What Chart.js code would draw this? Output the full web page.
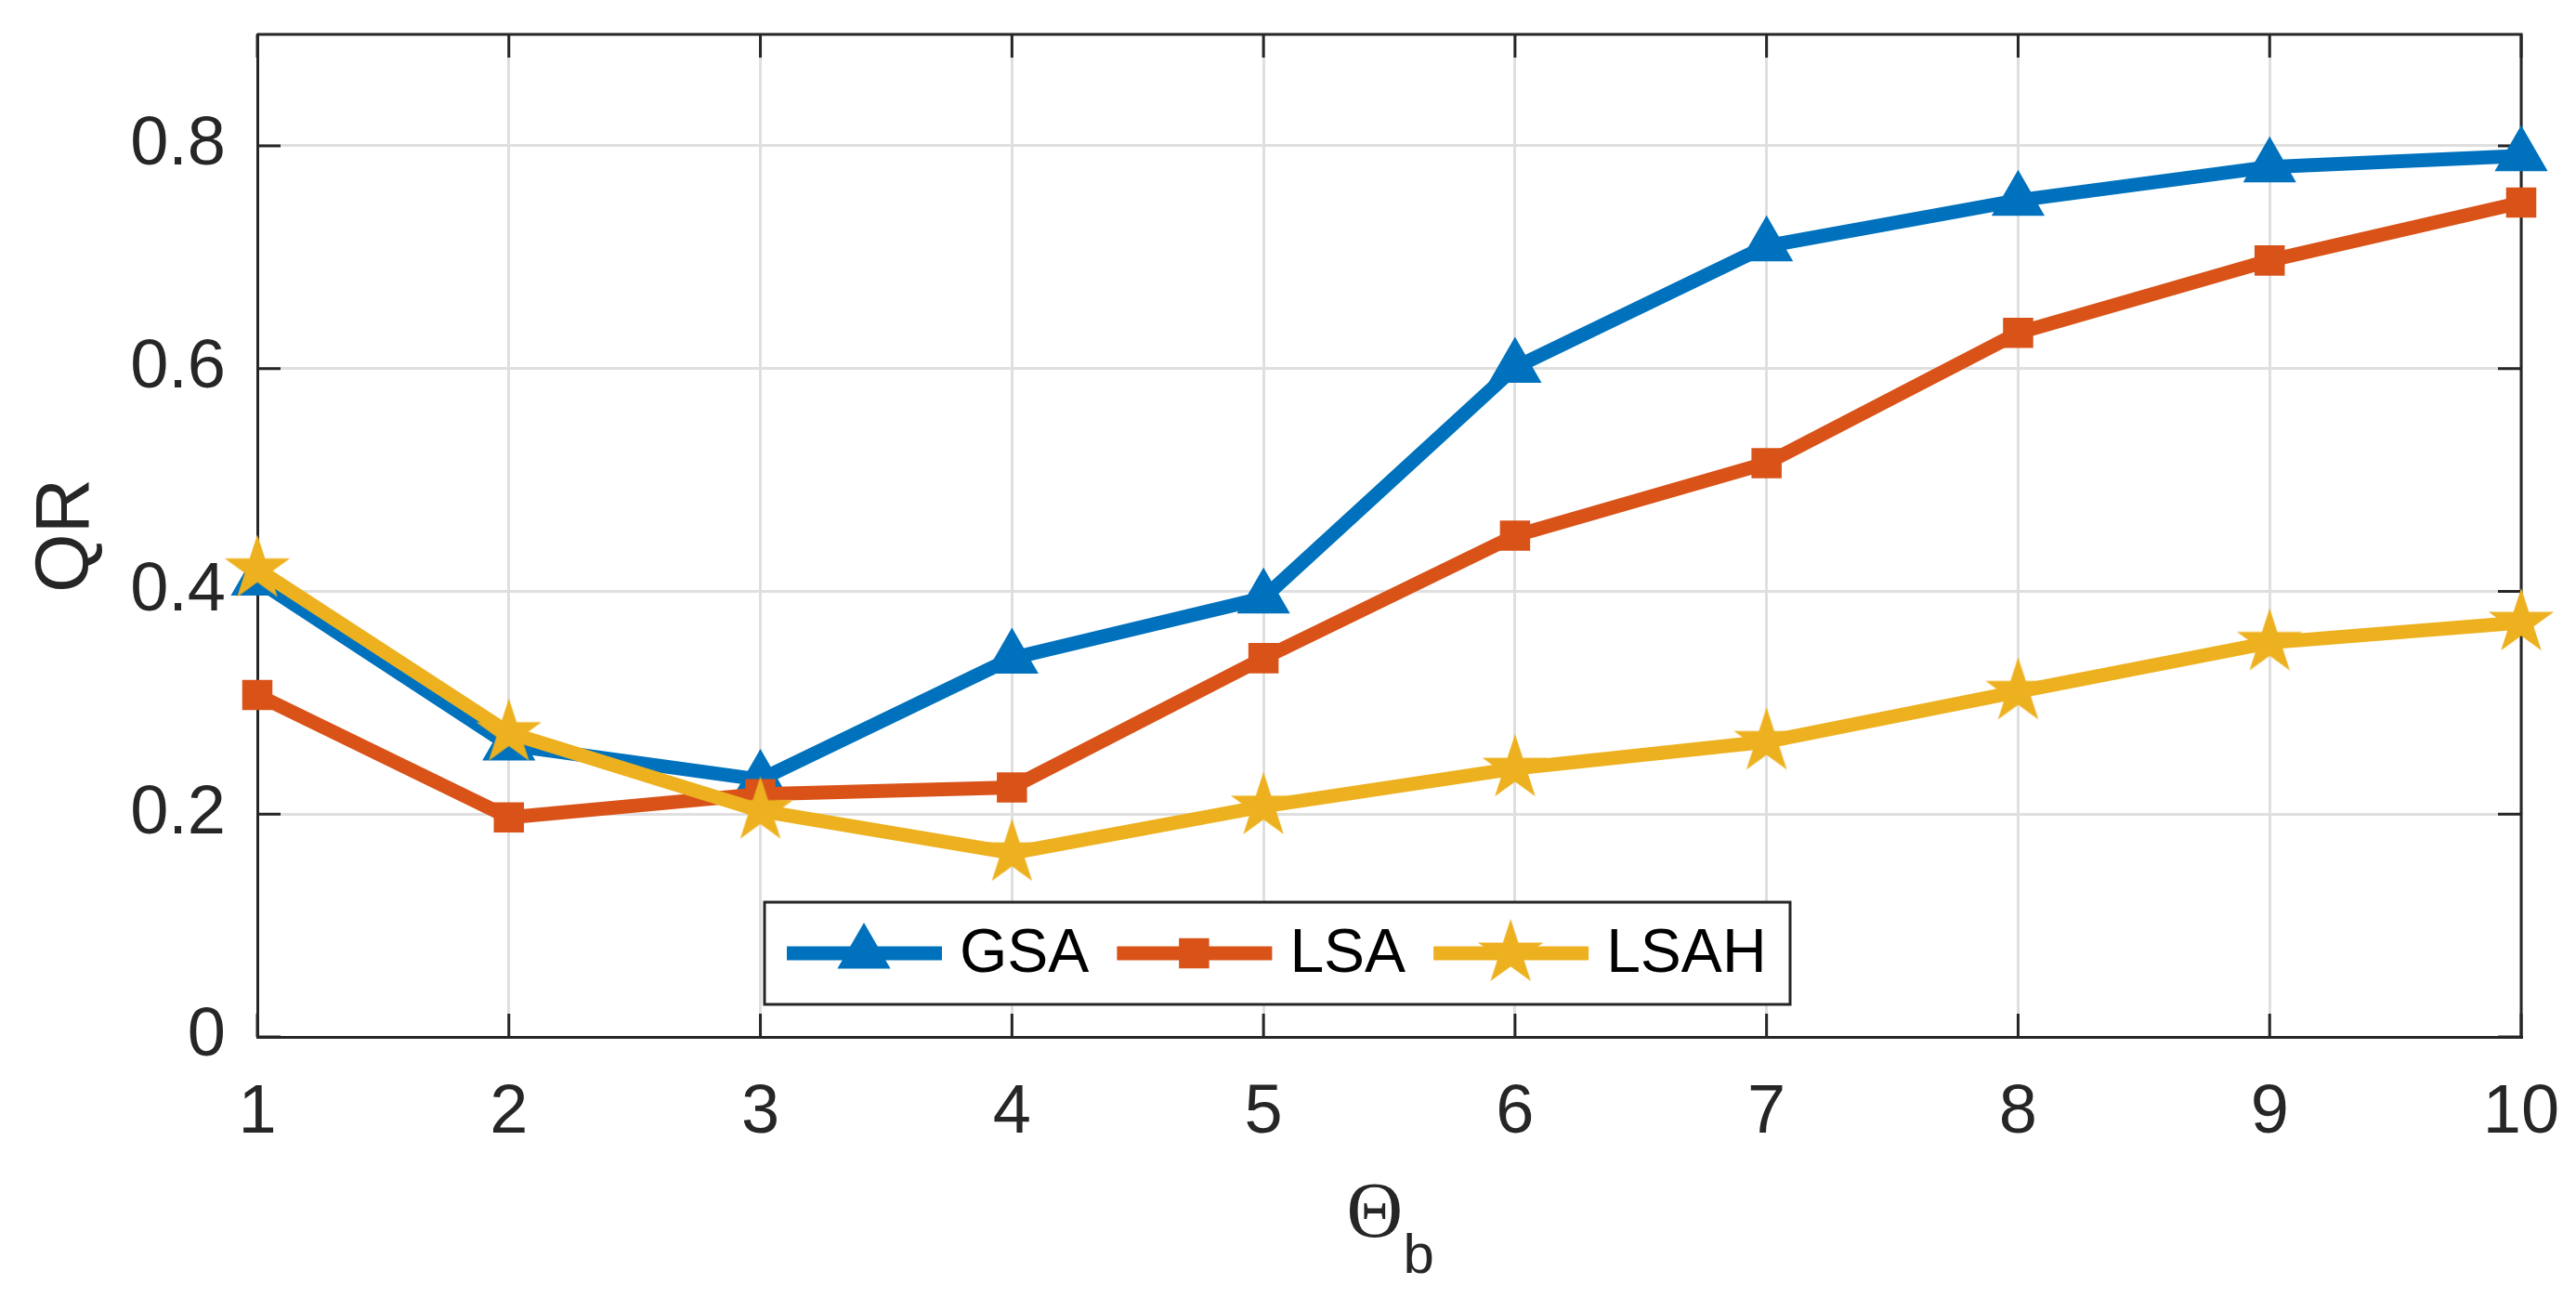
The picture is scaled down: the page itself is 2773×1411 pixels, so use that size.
<!DOCTYPE html>
<html>
<head>
<meta charset="utf-8">
<title>QR vs Theta_b</title>
<script src="https://cdn.jsdelivr.net/npm/chart.js@4.4.1/dist/chart.umd.min.js"></script>
<style>
    html, body { margin: 0; padding: 0; background: #fff; }
    #wrap { width: 2773px; height: 1411px; position: relative; }
</style>
</head>
<body>
<div id="wrap"><canvas id="qrChart"></canvas></div>
<script>
// data
const thetaB = ['1', '2', '3', '4', '5', '6', '7', '8', '9', '10'];
const gsa = [0.410, 0.262, 0.231, 0.340, 0.394, 0.601, 0.710, 0.751, 0.781, 0.791];
const lsa = [0.307, 0.197, 0.218, 0.224, 0.340, 0.450, 0.515, 0.632, 0.697, 0.749];
const lsah = [0.420, 0.273, 0.203, 0.165, 0.207, 0.241, 0.265, 0.310, 0.354, 0.372];
const yTicks = [0, 0.2, 0.4, 0.6, 0.8];
const yTickLabels = ['0', '0.2', '0.4', '0.6', '0.8'];

const SANS = "'Liberation Sans', Arial, Helvetica, sans-serif";
const AXIS = '#262626';

Chart.defaults.font.family = SANS;
Chart.defaults.color = AXIS;

// filled five-point star (MATLAB pentagram)
function makeStar(R, color) {
    const c = document.createElement('canvas');
    const s = Math.ceil(R * 2 + 4);
    c.width = s;
    c.height = s;
    const g = c.getContext('2d');
    g.fillStyle = color;
    g.beginPath();
    for (let i = 0; i < 10; i++) {
        const r = i % 2 === 0 ? R : R * 0.382;
        const a = -Math.PI / 2 + i * Math.PI / 5;
        g.lineTo(s / 2 + r * Math.cos(a), s / 2 + r * Math.sin(a));
    }
    g.closePath();
    g.fill();
    return c;
}

const starImg = makeStar(37, '#EDB120');

// box on the other two sides + inward ticks
const frameTicks = {
    id: 'frameTicks',
    beforeDatasetsDraw(chart) {
        const { ctx, chartArea: a, scales } = chart;
        const len = 25;
        ctx.save();
        ctx.strokeStyle = AXIS;
        ctx.lineWidth = 3;
        ctx.beginPath();
        ctx.moveTo(a.left, a.top);
        ctx.lineTo(a.right, a.top);
        ctx.lineTo(a.right, a.bottom);
        ctx.stroke();
        ctx.beginPath();
        scales.x.ticks.forEach((t, i) => {
            const px = scales.x.getPixelForTick(i);
            ctx.moveTo(px, a.bottom); ctx.lineTo(px, a.bottom - len);
            ctx.moveTo(px, a.top); ctx.lineTo(px, a.top + len);
        });
        yTicks.forEach(v => {
            const py = scales.y.getPixelForValue(v);
            ctx.moveTo(a.left, py); ctx.lineTo(a.left + len, py);
            ctx.moveTo(a.right, py); ctx.lineTo(a.right - len, py);
        });
        ctx.stroke();
        ctx.restore();
    }
};

// legend box inside the plot + x-axis title with subscript
const boxLegend = {
    id: 'boxLegend',
    afterDraw(chart) {
        const { ctx, chartArea: a } = chart;
        const w = 1104, h = 110;
        const x0 = a.left + 546, y0 = a.bottom - 35 - h;
        ctx.save();
        ctx.fillStyle = '#fff';
        ctx.fillRect(x0, y0, w, h);
        ctx.lineWidth = 3;
        ctx.strokeStyle = AXIS;
        ctx.strokeRect(x0, y0, w, h);

        const yc = y0 + h / 2;
        let x = x0 + 24;
        ctx.font = '66px ' + SANS;
        ctx.textBaseline = 'middle';
        ctx.textAlign = 'left';
        chart.data.datasets.forEach(ds => {
            ctx.strokeStyle = ds.borderColor;
            ctx.lineWidth = ds.borderWidth;
            ctx.beginPath();
            ctx.moveTo(x, yc);
            ctx.lineTo(x + 167, yc);
            ctx.stroke();
            ctx.fillStyle = ds.pointBackgroundColor;
            Chart.helpers.drawPoint(ctx, {
                pointStyle: ds.pointStyle, radius: ds.pointRadius, rotation: 0, borderWidth: 0
            }, x + 83, yc);
            ctx.fillStyle = '#000';
            ctx.fillText(ds.label, x + 186, yc + 2);
            x += 186 + ctx.measureText(ds.label).width + 30;
        });

        // x title: Theta_b
        const cx = (a.left + a.right) / 2;
        ctx.fillStyle = AXIS;
        ctx.textBaseline = 'alphabetic';
        ctx.font = "84px 'Liberation Serif', 'Times New Roman', serif";
        ctx.fillText('Θ', cx - 46, a.bottom + 215);
        ctx.font = '60px ' + SANS;
        ctx.fillText('b', cx + 15, a.bottom + 254);
        ctx.restore();
    }
};

const ctx = document.getElementById('qrChart').getContext('2d');
const qrChart = new Chart(ctx, {
    type: 'line',
    data: {
        labels: thetaB,
        datasets: [{
            label: 'GSA',
            data: gsa,
            borderColor: '#0072BD',
            backgroundColor: '#0072BD',
            pointBackgroundColor: '#0072BD',
            borderWidth: 15,
            pointStyle: 'triangle',
            pointRadius: 33,
            pointBorderWidth: 0,
            tension: 0,
            clip: false,
            order: 3
        },
        {
            label: 'LSA',
            data: lsa,
            borderColor: '#D95319',
            backgroundColor: '#D95319',
            pointBackgroundColor: '#D95319',
            borderWidth: 15,
            pointStyle: 'rect',
            pointRadius: 23,
            pointBorderWidth: 0,
            tension: 0,
            clip: false,
            order: 2
        },
        {
            label: 'LSAH',
            data: lsah,
            borderColor: '#EDB120',
            backgroundColor: '#EDB120',
            pointBackgroundColor: '#EDB120',
            borderWidth: 15,
            pointStyle: starImg,
            pointRadius: 37,
            pointBorderWidth: 0,
            tension: 0,
            clip: false,
            order: 1
        }
        ]
    },
    options: {
        responsive: true,
        maintainAspectRatio: false,
        animation: false,
        events: [],
        layout: {
            padding: { top: 33, right: 59, left: 0, bottom: 0 }
        },
        plugins: {
            legend: { display: false },
            tooltip: { enabled: false }
        },
        scales: {
            x: {
                type: 'category',
                offset: false,
                grid: { color: '#dfdfdf', lineWidth: 3, drawTicks: false },
                border: { color: AXIS, width: 3 },
                ticks: {
                    font: { size: 74 },
                    color: AXIS,
                    padding: 38,
                    maxRotation: 0,
                    autoSkip: false
                },
                afterFit(scale) {
                    scale.height = 295;
                    scale.paddingLeft = 0;
                    scale.paddingRight = 0;
                }
            },
            y: {
                type: 'linear',
                min: 0,
                max: 0.9,
                afterBuildTicks(scale) {
                    scale.ticks = yTicks.map(v => ({ value: v }));
                },
                grid: { color: '#dfdfdf', lineWidth: 3, drawTicks: false },
                border: { color: AXIS, width: 3 },
                ticks: {
                    font: { size: 74 },
                    color: AXIS,
                    padding: 34,
                    callback: (value) => yTickLabels[yTicks.indexOf(value)]
                },
                title: {
                    display: true,
                    text: 'QR',
                    font: { size: 82 },
                    color: AXIS,
                    padding: { top: 23, bottom: 0 }
                },
                afterFit(scale) {
                    scale.width = 277;
                    scale.paddingTop = 0;
                    scale.paddingBottom = 0;
                }
            }
        }
    },
    plugins: [frameTicks, boxLegend]
});
</script>
</body>
</html>
